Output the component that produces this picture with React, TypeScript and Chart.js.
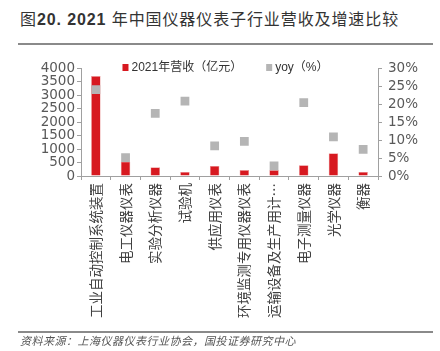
import React, { useEffect, useRef } from "react";
import { Chart, registerables } from "chart.js";

Chart.register(...registerables);

const categories = [
  "工业自动控制系统装置",
  "电工仪器仪表",
  "实验分析仪器",
  "试验机",
  "供应用仪表",
  "环境监测专用仪器仪表",
  "运输设备及生产用计…",
  "电子测量仪器",
  "光学仪器",
  "衡器",
];
const revenue = [3700, 530, 320, 150, 370, 220, 220, 400, 840, 150];
const yoy = [24.0, 5.1, 17.4, 20.8, 8.4, 9.6, 2.8, 20.4, 10.9, 7.4];
const revenueLabel = "2021年营收（亿元）";
const yoyLabel = "yoy（%）";
const leftMax = 4000;
const leftStep = 500;
const rightMax = 30;
const rightStep = 5;

const RED = "#d71920";
const GRAY = "#b5b5b5";
const AXIS = "#a0a0a0";
const TICK_TEXT = "#595959";
const NUM_FONT = "'DejaVu Sans', 'Liberation Sans', sans-serif";
const CJK_FONT = "'Noto Sans CJK SC', 'Liberation Sans', sans-serif";

const legendPlugin = {
  id: "inlineLegend",
  afterDraw(chart: any) {
    const { ctx, chartArea } = chart;
    const items = chart.data.datasets.map((d: any) => ({
      label: d.label,
      color: d.legendColor,
    }));
    ctx.save();
    ctx.font = `12px 'Liberation Sans', 'Noto Sans CJK SC', sans-serif`;
    const box = 6;
    const gap = 3;
    const itemGap = 24;
    const widths = items.map((it: any) => box + gap + ctx.measureText(it.label).width);
    const total = widths.reduce((a: number, b: number) => a + b, 0) + itemGap * (items.length - 1);
    let x = (chartArea.left + chartArea.right) / 2 - total / 2 - 4;
    const y = chartArea.top - 0.5;
    items.forEach((it: any, i: number) => {
      ctx.fillStyle = it.color;
      ctx.fillRect(x, y - box / 2 - 0.5, box, box + 1);
      ctx.fillStyle = "#333333";
      ctx.textBaseline = "middle";
      ctx.textAlign = "left";
      ctx.fillText(it.label, x + box + gap, y + 0.5);
      x += widths[i] + itemGap;
    });
    ctx.restore();
  },
};

function ChartView() {
  const ref = useRef<HTMLCanvasElement | null>(null);
  useEffect(() => {
    if (!ref.current) return;
    const chart = new Chart(ref.current, {
      type: "bar",
      data: {
        labels: categories,
        datasets: [
          {
            type: "bar",
            label: revenueLabel,
            data: revenue,
            backgroundColor: RED,
            borderColor: "rgba(230,120,120,0.8)",
            borderWidth: 0.6,
            yAxisID: "y",
            barPercentage: 0.32,
            categoryPercentage: 1,
            order: 2,
            legendColor: RED,
          } as any,
          {
            type: "line",
            label: yoyLabel,
            data: yoy,
            showLine: false,
            pointStyle: "rect",
            pointRadius: 6.2,
            pointBackgroundColor: GRAY,
            pointBorderWidth: 0,
            backgroundColor: GRAY,
            borderColor: GRAY,
            yAxisID: "y1",
            order: 1,
            legendColor: GRAY,
          } as any,
        ],
      },
      options: {
        animation: false,
        responsive: true,
        maintainAspectRatio: false,
        layout: { padding: { top: 68, left: 0, right: 0, bottom: 0 } },
        plugins: {
          legend: { display: false },
          tooltip: { enabled: false },
          title: { display: false },
        },
        scales: {
          x: {
            offset: true,
            grid: {
              offset: true,
              drawOnChartArea: false,
              drawTicks: true,
              tickLength: 4,
              color: AXIS,
            },
            border: { display: true, color: AXIS, width: 1 },
            ticks: {
              autoSkip: false,
              minRotation: 90,
              maxRotation: 90,
              padding: 3,
              color: "#404040",
              font: { family: CJK_FONT, size: 13.5 },
            },
            afterFit: (s: any) => {
              s.height = 175;
            },
          },
          y: {
            position: "left",
            min: 0,
            max: leftMax,
            grid: { drawOnChartArea: false, drawTicks: true, tickLength: 4, color: AXIS },
            border: { display: true, color: AXIS, width: 1 },
            ticks: {
              stepSize: leftStep,
              autoSkip: false,
              padding: 2,
              color: TICK_TEXT,
              font: { family: NUM_FONT, size: 13.5 },
              callback: (v: any) => `${v}`,
            },
            afterFit: (s: any) => {
              s.width = 81;
            },
          },
          y1: {
            position: "right",
            min: 0,
            max: rightMax,
            grid: { drawOnChartArea: false, drawTicks: true, tickLength: 4, color: AXIS },
            border: { display: true, color: AXIS, width: 1 },
            ticks: {
              stepSize: rightStep,
              autoSkip: false,
              padding: 6,
              color: TICK_TEXT,
              font: { family: NUM_FONT, size: 13.5 },
              callback: (v: any) => `${v}%`,
            },
            afterFit: (s: any) => {
              s.width = 62;
            },
          },
        },
      },
      plugins: [legendPlugin],
    });
    return () => chart.destroy();
  }, []);
  return <canvas ref={ref} />;
}

export default function App() {
  const lineStyle: React.CSSProperties = {
    position: "absolute",
    left: 18,
    width: 415,
    height: 2,
    background: "#8a8a8a",
  };
  return (
    <div
      style={{
        position: "absolute",
        left: 0,
        top: 0,
        width: 440,
        height: 351,
        background: "#ffffff",
        overflow: "hidden",
      }}
    >
      <div
        style={{
          position: "absolute",
          left: 20,
          top: 10,
          fontSize: 16,
          lineHeight: "20px",
          letterSpacing: "0.9px",
          color: "#333333",
          whiteSpace: "nowrap",
          fontFamily: "'Liberation Sans', 'Noto Sans CJK SC', sans-serif",
        }}
      >
        图<b>20. 2021</b> 年中国仪器仪表子行业营收及增速比较
      </div>
      <div style={{ ...lineStyle, top: 43 }} />
      <div style={{ position: "absolute", left: 0, top: 0, width: 440, height: 351 }}>
        <ChartView />
      </div>
      <div style={{ ...lineStyle, top: 331, height: 1.5 }} />
      <div
        style={{
          position: "absolute",
          left: 20,
          top: 334,
          fontSize: 11,
          lineHeight: "13px",
          letterSpacing: "0.5px",
          fontStyle: "italic",
          color: "#555555",
          whiteSpace: "nowrap",
          fontFamily: "'Noto Sans CJK SC', sans-serif",
        }}
      >
        资料来源：上海仪器仪表行业协会，国投证券研究中心
      </div>
    </div>
  );
}
